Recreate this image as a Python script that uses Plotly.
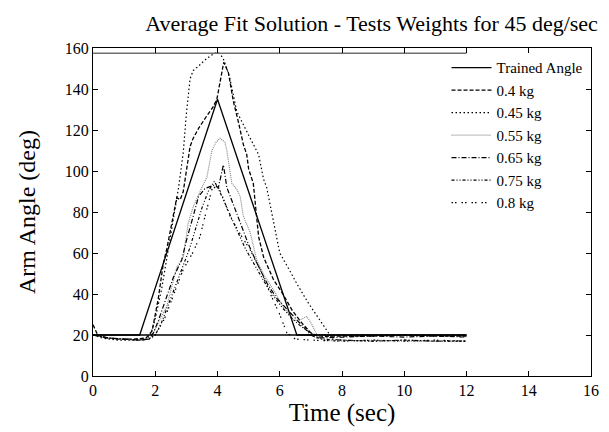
import plotly.graph_objects as go

# ---------------- data ----------------
trained_t = [0, 1.5, 4.0, 6.55, 12]
trained_y = [20, 20, 135, 20, 20]

baseline_t = [0, 12]
baseline_y = [20, 20]

upper_t = [0, 12]
upper_y = [157.5, 157.5]

kg040_t = [0, 0.15, 0.3, 0.8, 1.3, 1.7, 1.9, 2.1, 2.26, 2.37, 2.5, 2.69, 2.8, 2.9, 3.0, 3.12, 3.22, 3.4,
           3.66, 3.85, 3.98, 4.1, 4.2, 4.35, 4.51, 4.67, 4.83, 4.94, 5.0, 5.15, 5.32, 5.48, 5.8, 6.1,
           6.4, 6.7, 7.0, 7.3, 7.6, 8, 9, 10, 11, 12]
kg040_y = [25, 20, 19, 18, 18, 18.5, 22, 38, 55, 62, 72, 87, 86, 90, 100, 112, 116, 121,
           127, 131, 135, 146, 153, 148, 134, 124, 113, 108, 101, 94, 68, 58, 47, 40,
           32, 26, 21, 19, 19.5, 19.5, 19.5, 20, 19.5, 19.5]

kg045_t = [0, 0.3, 0.8, 1.3, 1.7, 1.85, 2.0, 2.2, 2.4, 2.6, 2.75, 2.9, 3.0, 3.12, 3.22, 3.45, 3.66,
           3.86, 4.0, 4.08, 4.18, 4.3, 4.4, 4.62, 4.78, 5.05, 5.32, 5.48, 5.58, 5.75, 6.0, 6.3,
           6.55, 6.9, 7.2, 7.5, 7.7, 8, 9, 10, 11, 12]
kg045_y = [20, 18.5, 17.5, 17.5, 18, 20, 28, 42, 60, 78, 92, 109, 128, 145, 149, 152, 155,
           157, 158, 157, 155, 150, 145, 129, 124, 116, 108, 96, 92, 79, 60, 52,
           45, 36, 29, 22, 18, 17.5, 17, 17.5, 17, 17]

kg055_t = [0, 0.5, 1.0, 1.5, 1.8, 1.94, 2.1, 2.37, 2.69, 2.9, 3.06, 3.22, 3.5, 3.66, 3.82, 3.95,
           4.08, 4.24, 4.3, 4.46, 4.62, 4.73, 4.83, 5.05, 5.26, 5.5, 5.8, 6.1, 6.44, 6.6, 6.87,
           7.0, 7.2, 7.4, 8, 9, 10, 11, 12]
kg055_y = [20, 18.5, 18, 17.5, 18, 21, 26, 34, 53, 58, 74.5, 82.6, 92, 97, 110, 114,
           116, 114, 110, 94, 91, 87.5, 78, 70, 56.6, 49, 42, 34, 27.3, 27, 29,
           26, 20, 17.5, 17, 17.5, 17, 17, 17]

kg065_t = [0, 0.5, 1.0, 1.5, 1.8, 1.94, 2.1, 2.26, 2.58, 2.85, 3.0, 3.22, 3.39, 3.6, 3.87, 4.03,
           4.19, 4.3, 4.5, 4.75, 5.0, 5.3, 5.6, 5.9, 6.2, 6.5, 6.8, 7.0, 7.2, 8, 9, 10, 11, 12]
kg065_y = [20, 18.5, 18, 17.5, 18, 21, 27, 34, 48, 56.6, 66, 78, 87.5, 91.5, 93, 92,
           103, 92, 84, 74, 64, 54, 45, 38, 33, 28, 23, 20, 18.5, 19, 19.5, 19, 19.5, 19]

kg075_t = [0, 0.5, 1.0, 1.5, 1.8, 2.0, 2.2, 2.5, 2.8, 3.1, 3.3, 3.5, 3.7, 3.9, 4.1, 4.3, 4.6,
           4.9, 5.2, 5.5, 5.8, 6.1, 6.4, 6.7, 7.0, 7.3, 8, 9, 10, 11, 12]
kg075_y = [20, 18.5, 18, 17.5, 18, 20, 26, 38, 50, 62, 72, 82, 90, 95, 89, 82, 72,
           62, 54, 46, 39, 33, 28, 24, 21, 18, 17.5, 17, 17.5, 17, 17]

kg080_t = [0, 0.5, 1.0, 1.5, 1.8, 2.0, 2.3, 2.6, 2.9, 3.2, 3.44, 3.6, 3.82, 4.0, 4.15, 4.4, 4.7,
           5.05, 5.4, 5.7, 6.0, 6.23, 6.5, 7.0, 8, 9, 10, 11, 12]
kg080_y = [20, 18.5, 18, 17.5, 18, 20, 28, 40, 52, 60, 68, 78, 91, 93, 88, 78, 70,
           61.5, 51, 40, 30, 21, 18, 17.5, 17, 17.5, 17, 17.5, 17]

x_ticks = [0, 2, 4, 6, 8, 10, 12, 14, 16]
y_ticks = [0, 20, 40, 60, 80, 100, 120, 140, 160]

FONT = "Liberation Serif, Times New Roman, serif"

fig = go.Figure()

fig.add_trace(go.Scatter(x=trained_t, y=trained_y, mode="lines", name="Trained Angle",
                         line=dict(color="black", width=1.3)))
fig.add_trace(go.Scatter(x=kg040_t, y=kg040_y, mode="lines", name="0.4 kg",
                         line=dict(color="black", width=1.3, dash="4px,2px")))
fig.add_trace(go.Scatter(x=kg045_t, y=kg045_y, mode="lines", name="0.45 kg",
                         line=dict(color="black", width=1.2, dash="1.5px,2.5px")))
fig.add_trace(go.Scatter(x=kg055_t, y=kg055_y, mode="lines", name="0.55 kg",
                         line=dict(color="#888888", width=1.2, dash="1px,1px")))
fig.add_trace(go.Scatter(x=kg065_t, y=kg065_y, mode="lines", name="0.65 kg",
                         line=dict(color="black", width=1.2, dash="5px,2px,1px,2px")))
fig.add_trace(go.Scatter(x=kg075_t, y=kg075_y, mode="lines", name="0.75 kg",
                         line=dict(color="black", width=1.2, dash="3px,2px,1px,2px,1px,2px")))
fig.add_trace(go.Scatter(x=kg080_t, y=kg080_y, mode="lines", name="0.8 kg",
                         line=dict(color="black", width=1.2, dash="1.5px,2px,1.5px,5px")))
fig.add_trace(go.Scatter(x=baseline_t, y=baseline_y, mode="lines", showlegend=False,
                         line=dict(color="black", width=1.3)))
fig.add_trace(go.Scatter(x=upper_t, y=upper_y, mode="lines", showlegend=False,
                         line=dict(color="#707070", width=1.5)))

axis_common = dict(
    showgrid=False, zeroline=False, showline=True, linecolor="black", linewidth=1,
    mirror="ticks", ticks="inside", ticklen=5, tickcolor="black", automargin=False,
    tickfont=dict(family=FONT, size=16, color="black"),
)

# the page body adds an 8px offset, so the figure is sized to the remaining viewport
fig.update_layout(
    width=601, height=424,
    paper_bgcolor="white", plot_bgcolor="white",
    margin=dict(l=85, r=18, t=40, b=56, autoexpand=False),
    font=dict(family=FONT, color="black"),
    title=dict(text="Average Fit Solution - Tests Weights for 45 deg/sec",
               font=dict(family=FONT, size=22, color="black"),
               x=0.605, xref="container", xanchor="center",
               y=0.965, yref="container", yanchor="middle", automargin=False),
    xaxis=dict(range=[0, 16], tickvals=x_ticks,
               title=dict(text="Time (sec)", font=dict(family=FONT, size=25), standoff=2),
               **axis_common),
    yaxis=dict(range=[0, 160], tickvals=y_ticks,
               title=dict(text="Arm Angle (deg)", font=dict(family=FONT, size=24), standoff=22),
               **axis_common),
    legend=dict(x=0.995, y=0.99, xanchor="right", yanchor="top",
                bgcolor="rgba(0,0,0,0)", borderwidth=0,
                font=dict(family=FONT, size=15, color="black"),
                tracegroupgap=0, itemwidth=40),
)

fig.write_html("out.html")
